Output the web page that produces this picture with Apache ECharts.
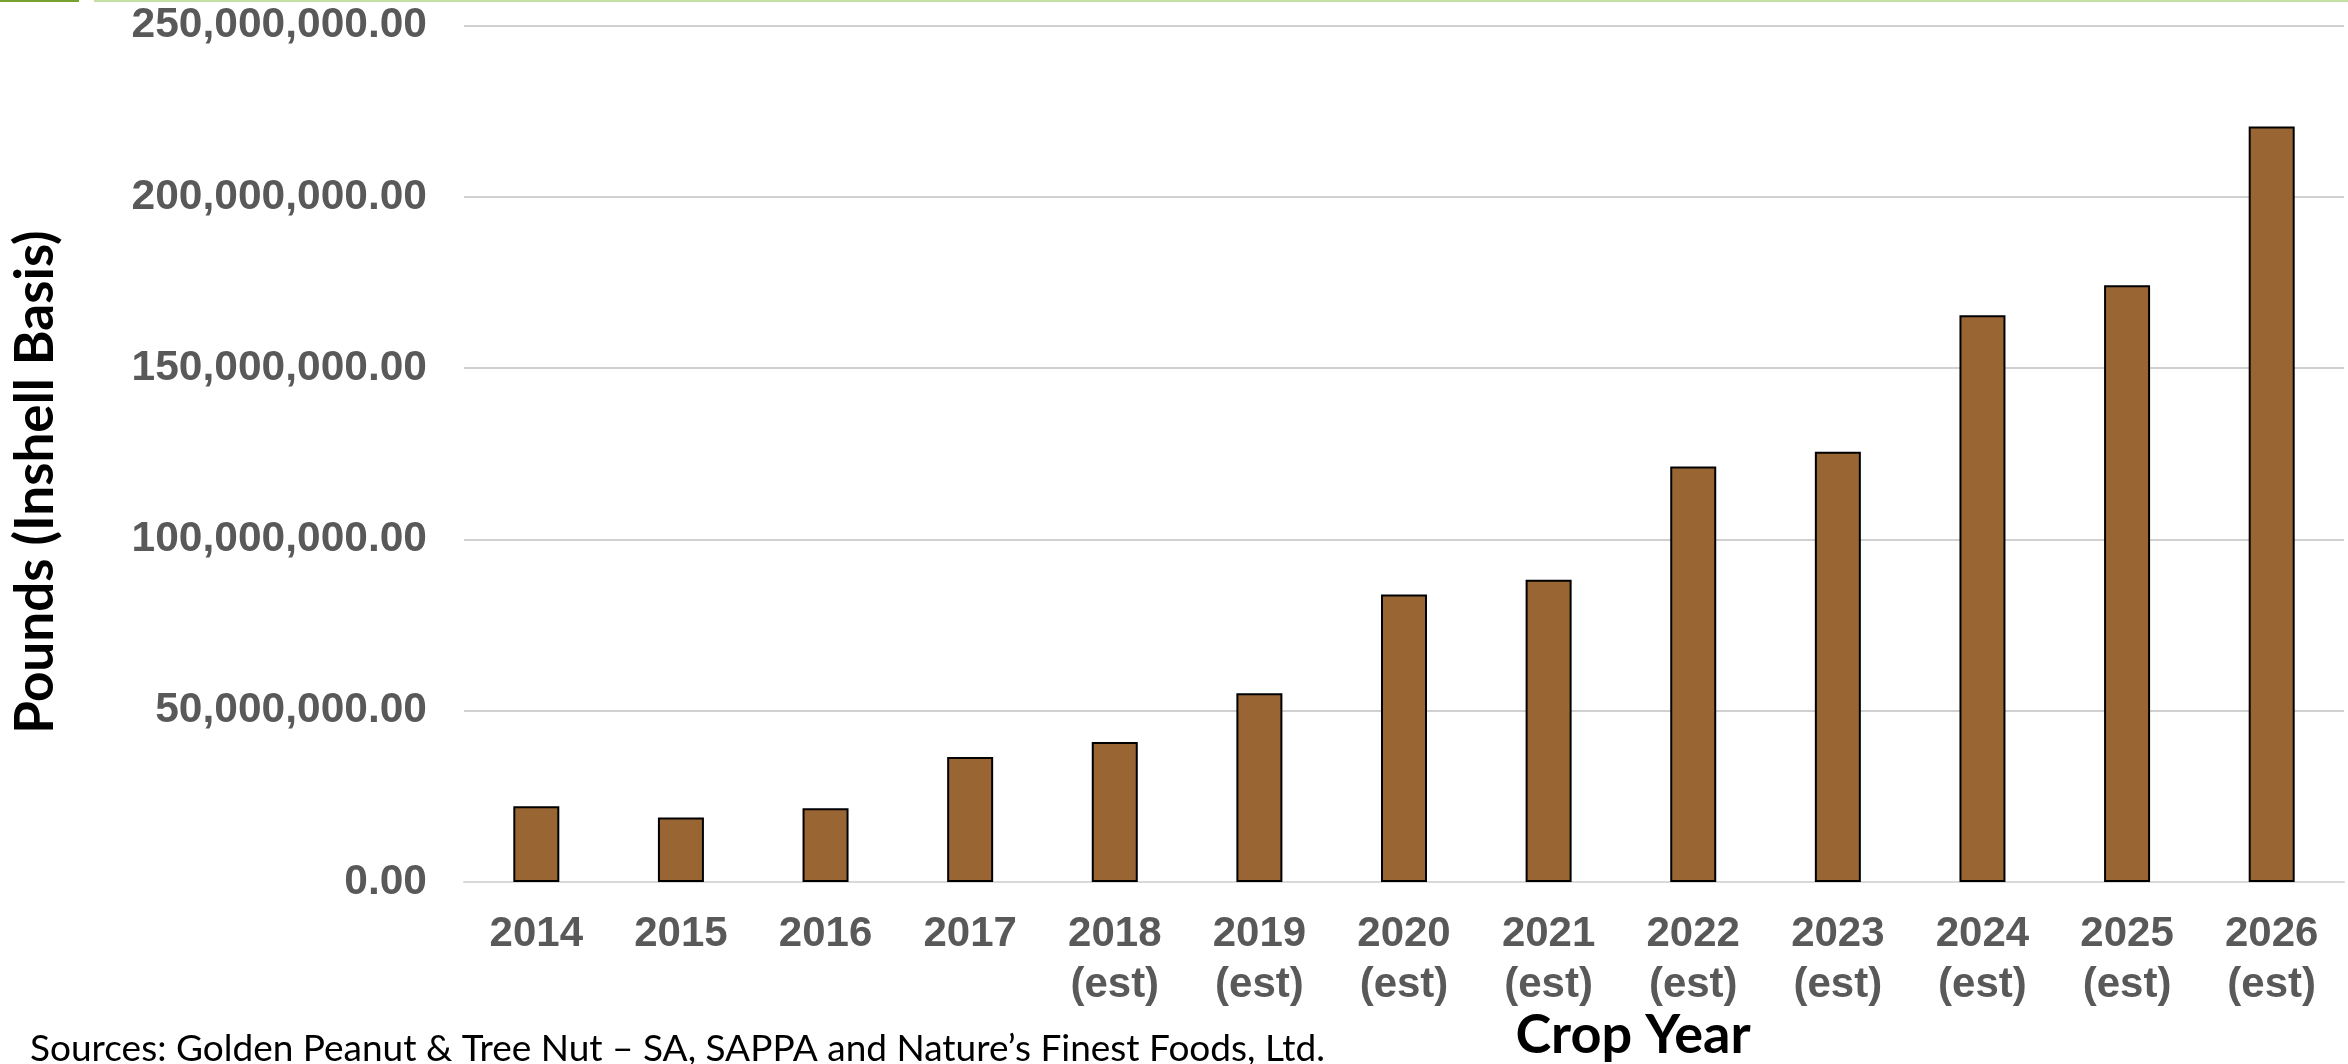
<!DOCTYPE html>
<html>
<head>
<meta charset="utf-8">
<script src="https://cdn.jsdelivr.net/npm/echarts@6/dist/echarts.min.js"></script>
<style>
html,body{margin:0;padding:0;background:#fff;}
#chart{width:2348px;height:1064px;}
</style>
</head>
<body>
<div id="chart"></div>
<script>
const categories = ["2014","2015","2016","2017","2018\n(est)","2019\n(est)","2020\n(est)","2021\n(est)","2022\n(est)","2023\n(est)","2024\n(est)","2025\n(est)","2026\n(est)"];
const pounds = [22100000, 18800000, 21500000, 36500000, 40900000, 55100000, 83900000, 88200000, 121300000, 125600000, 165400000, 174200000, 220500000];
const yTicks = [0, 50000000, 100000000, 150000000, 200000000, 250000000];
const yAxisTitle = "Pounds (Inshell Basis)";
const xAxisTitle = "Crop Year";
const sourceText = "Sources: Golden Peanut & Tree Nut – SA, SAPPA and Nature’s Finest Foods, Ltd.";

const chart = echarts.init(document.getElementById('chart'), null, {renderer: 'canvas'});
chart.setOption({
  animation: false,
  backgroundColor: '#ffffff',
  grid: {left: 464, right: 4, top: 25.5, bottom: 182, containLabel: false},
  xAxis: {
    type: 'category',
    data: categories,
    axisLine: {show: true, lineStyle: {color: '#d9d9d9', width: 2}},
    axisTick: {show: false},
    axisLabel: {
      interval: 0,
      margin: 27,
      color: '#595959',
      fontFamily: '"Liberation Sans", Arial, sans-serif',
      fontWeight: 'bold',
      fontSize: 42,
      lineHeight: 51
    }
  },
  yAxis: {
    type: 'value',
    min: yTicks[0],
    max: yTicks[yTicks.length - 1],
    interval: yTicks[1] - yTicks[0],
    axisLine: {show: false},
    axisTick: {show: false},
    splitLine: {lineStyle: {color: '#d0d0d0', width: 2}},
    axisLabel: {
      margin: 37,
      color: '#595959',
      fontFamily: '"Liberation Sans", Arial, sans-serif',
      fontWeight: 'bold',
      fontSize: 42.5,
      formatter: function (v) {
        return v.toLocaleString('en-US', {minimumFractionDigits: 2, maximumFractionDigits: 2});
      }
    }
  },
  series: [{
    type: 'bar',
    data: pounds,
    barWidth: 46,
    itemStyle: {color: '#996633', borderColor: '#000000', borderWidth: 2}
  }],
  graphic: [
    {type: 'rect', shape: {x: 0, y: 0, width: 79, height: 2}, style: {fill: '#77a22f'}},
    {type: 'rect', shape: {x: 94, y: 0, width: 2254, height: 2}, style: {fill: '#c5e0a3'}},
    {type: 'text', x: 36, y: 482, rotation: Math.PI / 2,
      style: {text: yAxisTitle, fill: '#000', font: 'bold 53px Lato, sans-serif', textAlign: 'center', textVerticalAlign: 'middle'}},
    {type: 'text', x: 1633, y: 1036,
      style: {text: xAxisTitle, fill: '#000', font: 'bold 54px Lato, sans-serif', textAlign: 'center', textVerticalAlign: 'middle'}},
    {type: 'text', x: 30, y: 1049,
      style: {text: sourceText, fill: '#000', font: '37px Lato, sans-serif', textAlign: 'left', textVerticalAlign: 'middle'}}
  ]
});
</script>
</body>
</html>
